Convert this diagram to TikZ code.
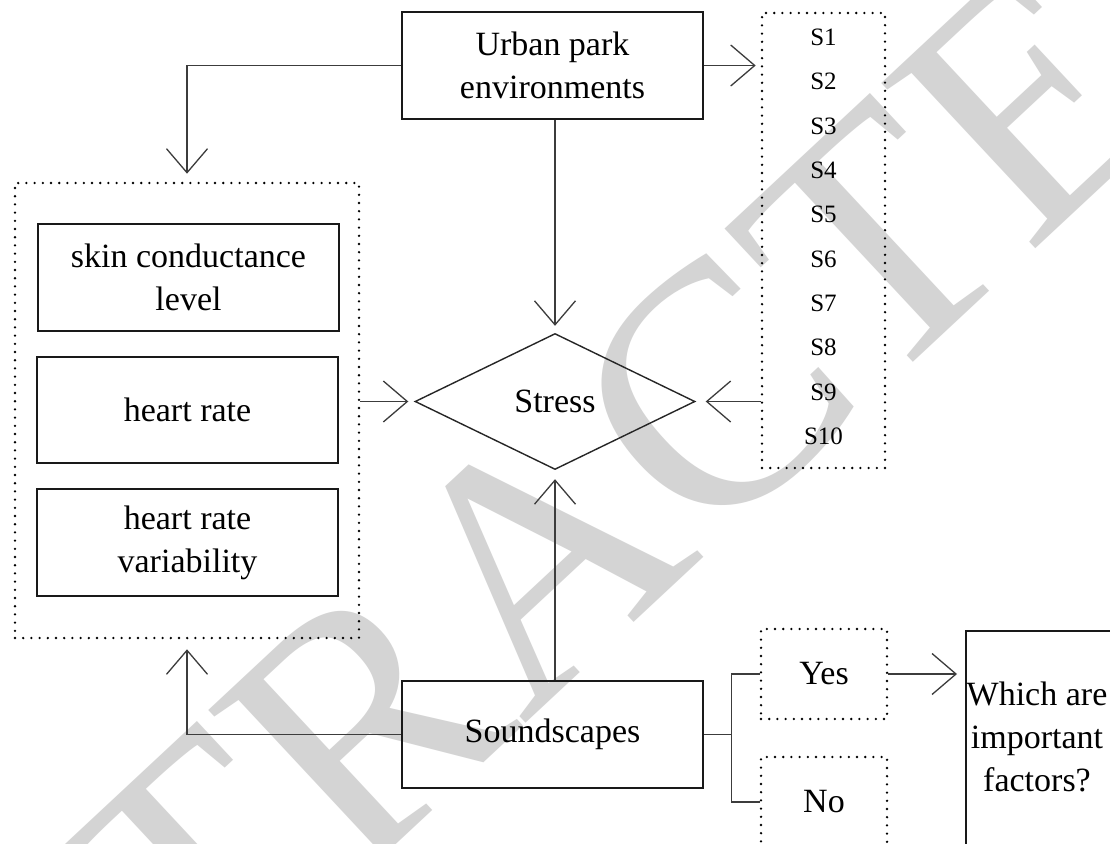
\documentclass[tikz,border=0pt]{standalone}
\usepackage{fontspec}
\setmainfont{Liberation Serif}
\usetikzlibrary{shapes.geometric,arrows.meta,calc}
\definecolor{wm}{RGB}{212,212,212}
\definecolor{ln}{RGB}{60,60,60}
\begin{document}
\begin{tikzpicture}[x=1pt,y=1pt,
  solidbox/.style={draw=black!90, line width=1.6pt, rectangle, inner sep=0pt, align=center,
    font=\fontsize{34}{43}\selectfont, minimum width=301pt, minimum height=107pt},
  dotbox/.style={draw=black, line width=2.6pt, dash pattern=on 0pt off 8.2pt, line cap=round,
    rectangle, inner sep=0pt, font=\fontsize{34}{43}\selectfont},
  conn/.style={draw=ln, line width=1.3pt},
  arr/.style={conn, -{Straight Barb[length=24pt,width=41pt]}},
  slabel/.style={font=\fontsize{25}{30}\selectfont, inner sep=0pt},
  wmtext/.style={text=wm, font=\fontsize{345}{345}\selectfont, rotate=43, inner sep=0pt},
  txt/.style={align=center, inner sep=0pt, font=\fontsize{34}{43}\selectfont},
]
\useasboundingbox (0,0) rectangle (1110,-843);
\fill[white] (0,0) rectangle (1110,-843);
% watermark
\node[wmtext] (wmark) at (545,-552) {RETRACTED};
% nodes
\node[solidbox] (urban) at (552.5,-65.5) {Urban park\\environments};
\node[dotbox, minimum width=123pt, minimum height=455pt] (sbox) at (823.5,-240.5) {};
\foreach \i in {1,...,10} {
  \node[slabel] (s\i) at (823.5,{-37.5-(\i-1)*44.3}) {S\i};
}
\node[draw=black!85, line width=1.4pt, diamond, aspect=2.06, minimum width=280pt, minimum height=136pt,
  inner sep=0pt, font=\fontsize{34}{43}\selectfont] (stress) at (555,-401.5) {Stress};
\node[dotbox, minimum width=344pt, minimum height=455pt] (leftbox) at (187,-410.5) {};
\node[solidbox] (scl) at (188.5,-277.5) {skin conductance\\level};
\node[solidbox, minimum height=106pt] (hr) at (187.5,-410) {heart rate};
\node[solidbox] (hrv) at (187.5,-542.5) {heart rate\\variability};
\node[solidbox] (sound) at (552.5,-734.5) {Soundscapes};
\node[dotbox, minimum width=126pt, minimum height=90pt] (yes) at (824,-674) {Yes};
\node[dotbox, minimum width=126pt, minimum height=90pt] (no) at (824,-802) {No};
\node[draw=black!90, line width=1.6pt, rectangle, minimum width=160pt, minimum height=240pt,
  anchor=north west, inner sep=0pt] (which) at (965,-630) {};
\node[txt] (whichtxt) at (1037,-737) {Which are\\important\\factors?};
% connectors
\draw[arr, shorten >=8pt] (urban.west) -| (leftbox.north);
\draw[arr, shorten >=5pt] (urban.east) -- (urban.east -| sbox.west);
\draw[arr, shorten >=7pt] (urban.south -| stress.north) -- (stress.north);
\draw[arr, shorten >=10pt] (sbox.west |- stress.east) -- (stress.east);
\draw[arr, shorten >=6pt] (leftbox.east |- stress.west) -- (stress.west);
\draw[arr, shorten >=9pt] (sound.north -| stress.south) -- (stress.south);
\draw[arr, shorten >=10pt] (sound.west) -| (leftbox.south);
\coordinate (br) at ($(sound.east)+(28,0)$);
\draw[conn] (sound.east) -- (br);
\draw[conn] (yes.west) -| (br) |- (no.west);
\draw[arr, shorten >=8pt] (yes.east) -- (yes.east -| which.west);
\end{tikzpicture}
\end{document}
